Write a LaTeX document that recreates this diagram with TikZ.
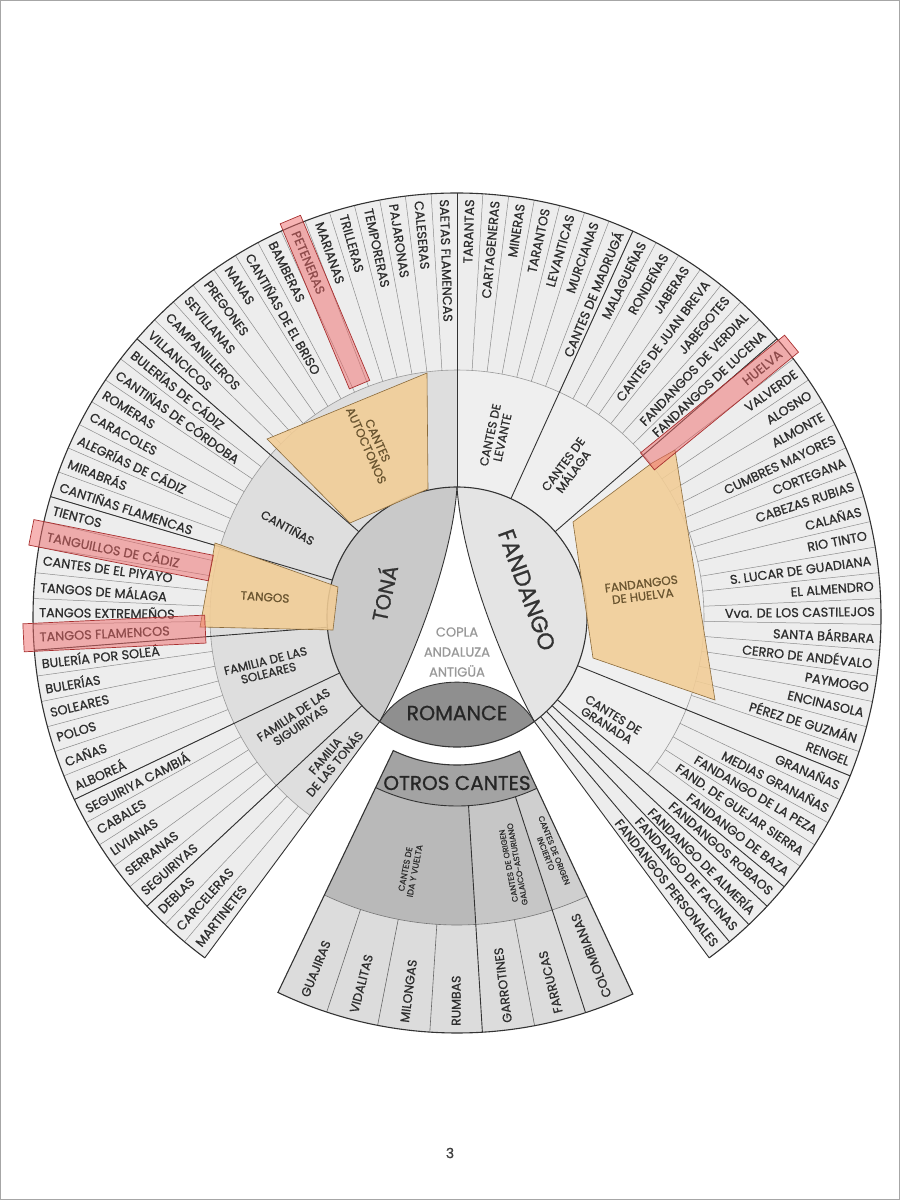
\documentclass[tikz,border=0pt]{standalone}
\usepackage{fontspec}
\setmainfont{Poppins}[RawFeature={embolden=0.8}]
\usetikzlibrary{calc}
\definecolor{ringlab}{HTML}{EDEDED}
\definecolor{midL}{HTML}{DEDEDE}
\definecolor{midR}{HTML}{EFEFEF}
\definecolor{tona}{HTML}{C9C9C9}
\definecolor{fand}{HTML}{E4E4E4}
\definecolor{rom}{HTML}{8F8F8F}
\definecolor{orangehl}{HTML}{F2CD96}
\definecolor{orangeln}{HTML}{8A6A3A}
\definecolor{browntext}{HTML}{6A5530}
\definecolor{redhl}{HTML}{F06A6A}
\definecolor{redln}{HTML}{A83030}
\definecolor{ink}{HTML}{2E2E2E}
\definecolor{sepgray}{HTML}{8C8C8C}
\definecolor{hdr}{HTML}{A3A3A3}
\definecolor{cida}{HTML}{B9B9B9}
\definecolor{cgal}{HTML}{C6C6C6}
\definecolor{cinc}{HTML}{CFCFCF}
\definecolor{clow}{HTML}{DCDCDC}
\newcommand\sect[4]{(#1:#3) -- (#1:#4) arc[start angle=#1,end angle=#2,radius=#4] -- (#2:#3) arc[start angle=#2,end angle=#1,radius=#3] -- cycle}
\newcommand\lblfont{\fontsize{12.8}{13}\selectfont}
\newcommand\grpfont{\fontsize{12}{12.5}\selectfont}
\tikzset{
  lbl/.style={font=\lblfont, text=ink, inner sep=0pt},
  grp/.style={font=\grpfont, text=ink, inner sep=0pt, align=center},
  thinsep/.style={draw=sepgray, line width=0.5pt},
  darksep/.style={draw=black!80, line width=0.9pt},
  rimline/.style={draw=black!80, line width=1.1pt},
  orbox/.style={fill=orangehl, fill opacity=0.88, draw=orangeln, line width=0.6pt},
  redbox/.style={fill=redhl, fill opacity=0.5, draw=redln, line width=0.7pt},
}
\begin{document}
\begin{tikzpicture}[x=1pt,y=1pt]
\useasboundingbox (0,0) rectangle (900,-1200);
\fill[white] (0,0) rectangle (900,-1200);
\draw[black!35, line width=0.8pt] (0.5,-0.5) rectangle (899.5,-1199.5);
\begin{scope}[shift={(457,-617)}]
\def\Ro{424}\def\Rm{247}\def\Rc{130}
% ring fills
\fill[ringlab] \sect{-53.5}{233.5}{\Rm}{\Ro};
\fill[ringlab] \sect{-53.5}{-39.5}{\Rc}{\Rm};
\fill[midL] \sect{90}{233.5}{\Rc}{\Rm};
\fill[midR] \sect{-39.5}{90}{\Rc}{\Rm};
% thin separators
\foreach \i in {1,...,36}{\draw[thinsep] ({90-\i*3.5}:\Rm) -- ({90-\i*3.5}:\Ro);}
\foreach \i in {1,...,40}{\draw[thinsep] ({90+\i*3.5}:\Rm) -- ({90+\i*3.5}:\Ro);}
\draw[draw=black!40, line width=0.6pt] (-39.5:\Rm) arc[start angle=-39.5,end angle=233.5,radius=\Rm];
% dark group separators
\foreach \a in {90,65.5,41,-22,-39.5,-43,-46.5,-50,-53.5,139,163.5,184.5,205.5,223,233.5}{\draw[darksep] (\a:\Rc) -- (\a:\Ro);}
\draw[rimline] (-53.5:\Ro) arc[start angle=-53.5,end angle=233.5,radius=\Ro];
% central circle
\fill[white] (0,0) circle[radius=\Rc];
\fill[tona] (90:\Rc) arc[start angle=90,end angle=233.5,radius=\Rc] .. controls (-45,-45) and (-5,55) .. (0,\Rc) -- cycle;
\fill[fand] (90:\Rc) arc[start angle=90,end angle=-53.5,radius=\Rc] .. controls (45,-45) and (5,55) .. (0,\Rc) -- cycle;
\fill[rom] (233.5:\Rc) arc[start angle=233.5,end angle=306.5,radius=\Rc] .. controls (45,-52) and (-45,-52) .. (233.5:\Rc) -- cycle;
\draw[darksep] (233.5:\Rc) .. controls (-45,-45) and (-5,55) .. (0,\Rc);
\draw[darksep] (-53.5:\Rc) .. controls (45,-45) and (5,55) .. (0,\Rc);
\draw[darksep] (-53.5:\Rc) .. controls (45,-52) and (-45,-52) .. (233.5:\Rc);
\draw[rimline] (0,0) circle[radius=\Rc];
% orange highlights
\draw[orbox] (-190,178) -- (-30,244) -- (-29,128) -- (-107,94) -- cycle;
\draw[orbox] (-242,74) -- (-119,30) -- (-124,-13) -- (-257,-10) -- cycle;
\draw[orbox] (116,95) -- (195,154) -- (218,167) -- (258,-83) -- (136,-41) -- cycle;
% right labels
\foreach \t [count=\i] in {TARANTAS,CARTAGENERAS,MINERAS,TARANTOS,LEVANTICAS,MURCIANAS,CANTES DE MADRUGÁ,MALAGUEÑAS,RONDEÑAS,JABERAS,CANTES DE JUAN BREVA,JABEGOTES,FANDANGOS DE VERDIAL,FANDANGOS DE LUCENA,HUELVA,VALVERDE,ALOSNO,ALMONTE,CUMBRES MAYORES,CORTEGANA,CABEZAS RUBIAS,CALAÑAS,RIO TINTO,S. LUCAR DE GUADIANA,EL ALMENDRO,Vva. DE LOS CASTILEJOS,SANTA BÁRBARA,CERRO DE ANDÉVALO,PAYMOGO,ENCINASOLA,PÉREZ DE GUZMÁN,RENGEL,GRANAÑAS,MEDIAS GRANAÑAS,FANDANGO DE LA PEZA,FAND. DE GUEJAR SIERRA,FANDANGO DE BAZA,FANDANGOS ROBAOS,FANDANGO DE ALMERÍA,FANDANGO DE FACINAS,FANDANGOS PERSONALES}{
  \pgfmathsetmacro\a{90-(\i-0.5)*3.5}
  \node[lbl, rotate=\a, anchor=east] (r\i) at (\a:418) {\t};
}
% left labels
\foreach \t [count=\i] in {SAETAS FLAMENCAS,CALESERAS,PAJARONAS,TEMPORERAS,TRILLERAS,MARIANAS,PETENERAS,BAMBERAS,CANTIÑAS DE EL BRISO,NANAS,PREGONES,SEVILLANAS,CAMPANILLEROS,VILLANCICOS,BULERÍAS DE CÁDIZ,CANTIÑAS DE CÓRDOBA,ROMERAS,CARACOLES,ALEGRÍAS DE CÁDIZ,MIRABRÁS,CANTIÑAS FLAMENCAS,TIENTOS,TANGUILLOS DE CÁDIZ,CANTES DE EL PIYAYO,TANGOS DE MÁLAGA,TANGOS EXTREMEÑOS,TANGOS FLAMENCOS,BULERÍA POR SOLEÁ,BULERÍAS,SOLEARES,POLOS,CAÑAS,ALBOREÁ,SEGUIRIYA CAMBIÁ,CABALES,LIVIANAS,SERRANAS,SEGUIRIYAS,DEBLAS,CARCELERAS,MARTINETES}{
  \pgfmathsetmacro\a{90+(\i-0.5)*3.5}
  \pgfmathsetmacro\b{\a-180}
  \node[lbl, rotate=\b, anchor=west] (l\i) at (\a:418) {\t};
}
% group labels
\node[grp, rotate=77.75] (g1) at (77.75:185) {CANTES DE\\LEVANTE};
\node[grp, rotate=53.25] (g2) at (53.25:186) {CANTES DE\\MÁLAGA};
\node[grp, rotate=7, text=browntext] (g3) at (185,27) {FANDANGOS\\DE HUELVA};
\node[grp, rotate=-32] (g4) at (153,-103) {CANTES DE\\GRANADA};
\node[grp, rotate=-66, text=browntext] (g5) at (-85,174) {CANTES\\AUTOCTONOS};
\node[grp, rotate=-29] (g6) at (-169,90) {CANTIÑAS};
\node[grp, rotate=-4, text=browntext] (g7) at (-192,20) {TANGOS};
\node[grp, rotate=14] (g8) at (-190,-50) {FAMILIA DE LAS\\SOLEARES};
\node[grp, rotate=34] (g9) at (-160,-103) {FAMILIA DE LAS\\SIGUIRIYAS};
\node[grp, rotate=50] (g10) at (-127,-143) {FAMILIA\\DE LAS TONÁS};
% red highlights
\begin{scope}[rotate=112.75]\draw[redbox] (252,-11) rectangle (431,11);\end{scope}
\begin{scope}[rotate=39.25]\draw[redbox] (246,-11) rectangle (432,11);\end{scope}
\begin{scope}[rotate=168.75]\draw[redbox] (251,-13) rectangle (434,13);\end{scope}
\begin{scope}[rotate=182.75]\draw[redbox] (252,-14) rectangle (434,14);\end{scope}
% central labels
\node[font=\fontsize{21}{23}\selectfont, text=black!80, rotate=78] (tonalbl) at (-74,24) {TONÁ};
\node[font=\fontsize{23}{25}\selectfont, text=black!80, rotate=-70] (fandlbl) at (70,27) {FANDANGO};
\node[font=\fontsize{13}{20}\selectfont, text=black!40, align=center] (copla) at (0,-35) {COPLA\\ANDALUZA\\ANTIGÜA};
\node[font=\fontsize{20.5}{22}\selectfont, text=black!85] (romance) at (0,-96) {ROMANCE};
% bottom fan: otros cantes
\fill[hdr] \sect{244.5}{295}{148}{189};
\fill[cida] \sect{244.5}{273.5}{189}{308};
\fill[cgal] \sect{273.5}{288}{189}{308};
\fill[cinc] \sect{288}{295}{189}{308};
\fill[clow] \sect{244.5}{295}{308}{416};
\draw[draw=black!55, line width=0.6pt] (244.5:308) arc[start angle=244.5,end angle=295,radius=308];
\foreach \a in {251.75,259,266.25,280.75}{\draw[draw=black!60, line width=0.6pt] (\a:308) -- (\a:416);}
\foreach \a in {273.5,288}{\draw[darksep] (\a:189) -- (\a:416);}
\draw[darksep] (244.5:189) arc[start angle=244.5,end angle=295,radius=189];
\draw[rimline] \sect{244.5}{295}{148}{416};
\node[font=\fontsize{20}{22}\selectfont, text=black!85] (otros) at (0,-166) {OTROS CANTES};
\node[font=\fontsize{8.5}{9.5}\selectfont, text=ink, align=center, rotate=79] (ida) at (-47,-253) {CANTES DE\\IDA Y VUELTA};
\node[font=\fontsize{8}{9}\selectfont, text=ink, align=center, rotate=100.75] (gal) at (56,-248) {CANTES DE ORIGEN\\GALAICO-ASTURIANO};
\node[font=\fontsize{8}{9}\selectfont, text=ink, align=center, rotate=-68.5] (inc) at (93,-235) {CANTES DE ORIGEN\\INCIERTO};
\foreach \t [count=\i] in {GUAJIRAS,VIDALITAS,MILONGAS,RUMBAS,GARROTINES,FARRUCAS,COLOMBIANAS}{
  \pgfmathsetmacro\a{244.5+(\i-0.5)*7.25}
  \pgfmathsetmacro\b{\a-180}
  \node[lbl, font=\fontsize{12.5}{13}\selectfont, rotate=\b, anchor=west] (b\i) at (\a:409) {\t};
}
\end{scope}
\node[font=\fontsize{14}{15}\selectfont, text=black!75] (pagenum) at (450,-1153) {3};
\end{tikzpicture}
\end{document}
